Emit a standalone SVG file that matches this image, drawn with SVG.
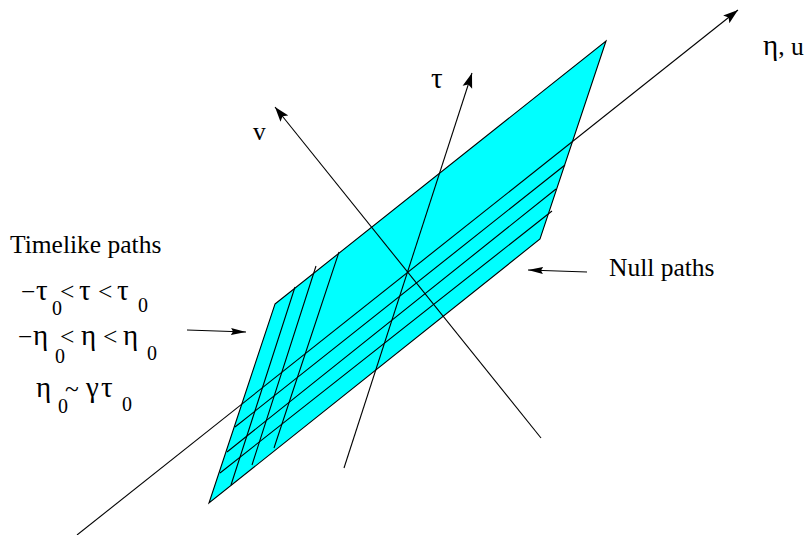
<svg xmlns="http://www.w3.org/2000/svg" width="806" height="535" viewBox="0 0 806 535">
<style>
text{font-family:"Liberation Serif","DejaVu Serif",serif;font-size:25.5px;fill:#000}
.s{font-size:20px}
.g{font-size:29px}
.l{fill:none;stroke:#000;stroke-width:1.1}
</style>
<defs>
<marker id="a" markerUnits="userSpaceOnUse" markerWidth="16" markerHeight="11" refX="15" refY="5.5" orient="auto"><path d="M0 .5L15 5.5L0 10.5L3 5.5Z" fill="#000"/></marker>
<marker id="b" markerUnits="userSpaceOnUse" markerWidth="16" markerHeight="8" refX="15" refY="4" orient="auto"><path d="M0 .5L15 4L0 7.5L2 4Z" fill="#000"/></marker>
</defs>
<rect width="806" height="535" fill="#fff"/>
<g id="sheet"><path d="M275 304L606 41L540 239L209 503Z" fill="#0ff" stroke="#000" stroke-width="1.1"/></g>
<g id="connectors">
<path class="l" d="M77 535L738 10" marker-end="url(#a)"/>
<path class="l" d="M344 468L472 73" marker-end="url(#a)"/>
<path class="l" d="M541 438L275 107" marker-end="url(#a)"/>
<path class="l" d="M235 427L565 165M227 452L556 189M220 473L552 211"/>
<path class="l" d="M231 485L295 287M252 465L316 266M274 448L339 252"/>
<path class="l" d="M187 330L246 332" marker-end="url(#b)"/>
<path class="l" d="M587 272L528 270" marker-end="url(#b)"/>
</g>
<g id="labels">
<text x="10" y="253">Timelike paths</text>
<text x="609" y="276">Null paths</text>
<text x="763" y="55"><tspan class="g">η</tspan>, u</text>
<text class="g" x="431" y="88">τ</text>
<text x="253" y="140">v</text>
<text x="21" y="300">−</text><text class="g" x="36" y="300">τ</text><text class="s" x="52" y="315">0</text><text x="60" y="300">&lt;</text><text class="g" x="79" y="300">τ</text><text x="98" y="300">&lt;</text><text class="g" x="117" y="300">τ</text><text class="s" x="138" y="312">0</text>
<text x="18" y="345">−</text><text class="g" x="33" y="345">η</text><text class="s" x="55" y="363">0</text><text x="60" y="345">&lt;</text><text class="g" x="81" y="345">η</text><text x="103" y="345">&lt;</text><text class="g" x="123" y="345">η</text><text class="s" x="147" y="360">0</text>
<text class="g" x="36" y="397">η</text><text class="s" x="58" y="413">0</text><text x="65" y="397">~</text><text class="g" x="86" y="397">γ</text><text class="g" x="101" y="397">τ</text><text class="s" x="122" y="411">0</text>
</g>
</svg>
